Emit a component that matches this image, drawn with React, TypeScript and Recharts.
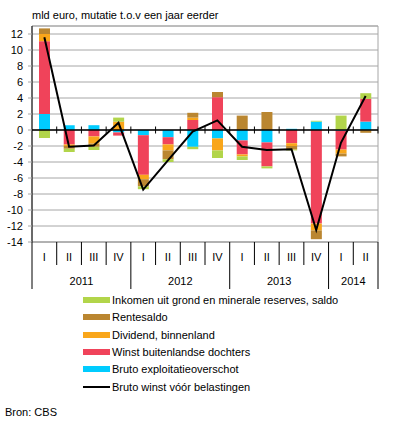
import {
  ComposedChart,
  Bar,
  Line,
  XAxis,
  YAxis,
  CartesianGrid,
  ReferenceLine,
  ReferenceArea,
} from "recharts";

const quarters = ["I", "II", "III", "IV", "I", "II", "III", "IV", "I", "II", "III", "IV", "I", "II"];
const yearLabels = ["2011", "2012", "2013", "2014"];
const yearQuarterCounts = [4, 4, 4, 2];
const yTicks = [-14, -12, -10, -8, -6, -4, -2, 0, 2, 4, 6, 8, 10, 12];

// mld euro, mutatie t.o.v. een jaar eerder
const exploitatie = [2.0, 0.6, 0.6, -0.3, -0.65, -0.9, -2.1, -1.05, -1.3, -1.55, 0.15, 1.05, -0.1, 1.05];
const winstBuitenland = [9.1, -1.8, -0.8, -0.4, -4.95, -0.9, 1.25, 4.1, -1.75, -3.0, -1.65, -11.7, -2.35, 2.85];
const dividend = [0.9, -0.2, -0.9, 1.0, -0.55, -0.75, 0.3, -1.5, -0.25, 0, -0.35, -0.85, -0.5, -0.05];
const rentesaldo = [0.7, -0.35, -0.4, 0.05, -0.9, -1.1, 0.6, 0.65, 1.8, 2.25, -0.45, -1.1, -0.35, -0.3];
const inkomen = [-1.0, -0.4, -0.4, 0.5, -0.35, -0.35, -0.3, -0.95, -0.45, -0.25, -0.1, 0.1, 1.8, 0.7];
const brutoWinst = [11.6, -2.1, -1.95, 0.9, -7.45, -3.8, -0.2, 1.2, -2.1, -2.5, -2.4, -12.5, -1.6, 4.25];

const series = [
  { key: "exploitatie", name: "Bruto exploitatieoverschot", color: "#00ccff" },
  { key: "winstBuitenland", name: "Winst buitenlandse dochters", color: "#f0435a" },
  { key: "dividend", name: "Dividend, binnenland", color: "#f9a61a" },
  { key: "rentesaldo", name: "Rentesaldo", color: "#ba8630" },
  { key: "inkomen", name: "Inkomen uit grond en minerale reserves, saldo", color: "#b2d54a" },
];

const data = quarters.map((q, i) => ({
  q: `${q}-${i}`,
  label: q,
  exploitatie: exploitatie[i],
  winstBuitenland: winstBuitenland[i],
  dividend: dividend[i],
  rentesaldo: rentesaldo[i],
  inkomen: inkomen[i],
  brutoWinst: brutoWinst[i],
}));

const W = 396;
const H = 424;
const margin = { top: 26, right: 18, bottom: 132, left: 0 };
const yAxisWidth = 32;
const bandWidth = (W - margin.left - margin.right - yAxisWidth) / quarters.length;
const FONT = "'Liberation Sans', Arial, sans-serif";
const GRID = "#a6a6a6";

// year start index for each quarter
const yearStarts: number[] = [];
yearQuarterCounts.reduce((acc, n) => {
  yearStarts.push(acc);
  return acc + n;
}, 0);

function QuarterTick(props: any) {
  const { x, y, payload } = props;
  const i = payload.index;
  const yi = yearStarts.indexOf(i);
  const left = x - bandWidth / 2;
  const last = i === quarters.length - 1;
  return (
    <g>
      <text x={x} y={y + 19} textAnchor="middle" fontSize={11} fontFamily={FONT} fill="#000">
        {quarters[i]}
      </text>
      <line x1={left} x2={left} y1={y} y2={yi >= 0 ? y + 47 : y + 23} stroke="#000" />
      {last && <line x1={x + bandWidth / 2} x2={x + bandWidth / 2} y1={y} y2={y + 47} stroke="#000" />}
      {yi >= 0 && (
        <text
          x={left + (yearQuarterCounts[yi] * bandWidth) / 2}
          y={y + 43}
          textAnchor="middle"
          fontSize={11}
          fontFamily={FONT}
          fill="#000"
        >
          {yearLabels[yi]}
        </text>
      )}
    </g>
  );
}

function ZeroLine(props: any) {
  const { x1, x2, y1 } = props;
  const bw = (x2 - x1) / quarters.length;
  return (
    <g>
      <line x1={x1} x2={x2} y1={y1} y2={y1} stroke="#000" strokeWidth={1.5} />
      {quarters.map((_, i) => (
        <line key={i} x1={x1 + bw * (i + 1)} x2={x1 + bw * (i + 1)} y1={y1 - 3.5} y2={y1 + 3.5} stroke="#000" />
      ))}
    </g>
  );
}

const legendItems = [
  ...series.slice().reverse().map((s) => ({ name: s.name, color: s.color, line: false })),
  { name: "Bruto winst vóór belastingen", color: "#000", line: true },
];

export default function App() {
  return (
    <div style={{ position: "absolute", left: 0, top: 0, width: W, height: H, fontFamily: FONT, fontSize: 11, background: "#fff" }}>
      <div style={{ position: "absolute", left: 32, top: 8, lineHeight: "14px" }}>
        mld euro, mutatie t.o.v een jaar eerder
      </div>
      <ComposedChart width={W} height={H} data={data} margin={margin} stackOffset="sign">
        <CartesianGrid vertical={false} stroke={GRID} />
        <ReferenceArea y1={-14} y2={13} fill="none" stroke={GRID} strokeOpacity={1} />
        <XAxis
          dataKey="q"
          height={50}
          axisLine={{ stroke: GRID }}
          tickLine={false}
          tickSize={0}
          tickMargin={0}
          interval={0}
          tick={<QuarterTick />}
        />
        <YAxis
          width={yAxisWidth}
          domain={[-14, 13]}
          ticks={yTicks}
          interval={0}
          axisLine={{ stroke: "#000" }}
          tickLine={{ stroke: GRID }}
          tickSize={4}
          tickMargin={5}
          tick={{ fontSize: 11, fontFamily: FONT, fill: "#000" }}
        />
        {series.map((s) => (
          <Bar key={s.key} dataKey={s.key} name={s.name} stackId="a" fill={s.color} barSize={11} isAnimationActive={false} />
        ))}
        <ReferenceLine y={0} shape={<ZeroLine />} />
        <Line
          dataKey="brutoWinst"
          name="Bruto winst vóór belastingen"
          type="linear"
          stroke="#000"
          strokeWidth={2}
          dot={false}
          isAnimationActive={false}
        />
      </ComposedChart>
      <div style={{ position: "absolute", left: 83, top: 291.5 }}>
        {legendItems.map((it) => (
          <div key={it.name} style={{ display: "flex", alignItems: "center", height: 17.3 }}>
            <span
              style={{
                display: "inline-block",
                width: 27,
                height: it.line ? 2 : 6,
                background: it.color,
                marginRight: 2,
              }}
            />
            <span style={{ lineHeight: "14px" }}>{it.name}</span>
          </div>
        ))}
      </div>
      <div style={{ position: "absolute", left: 5, top: 405, lineHeight: "14px" }}>Bron: CBS</div>
    </div>
  );
}
